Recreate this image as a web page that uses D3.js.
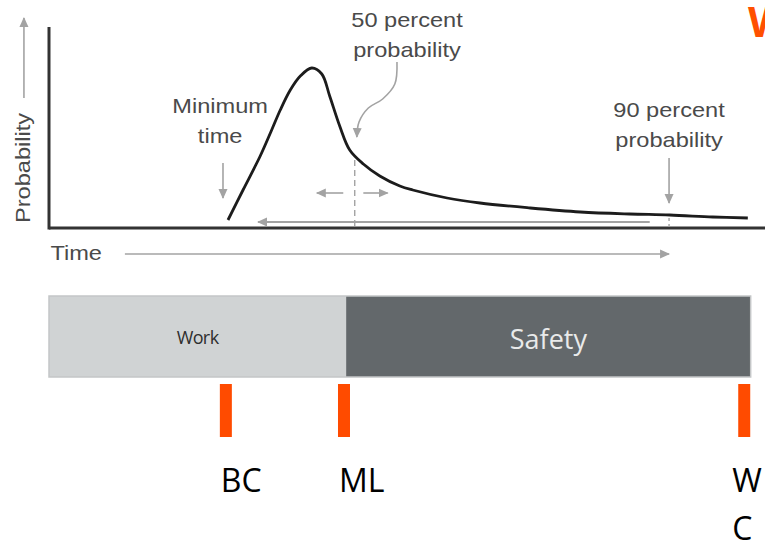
<!DOCTYPE html>
<meta charset="utf-8">
<style>
body { margin: 0; background: #fff; }
svg { display: block; }
.note { font-family: "Liberation Sans", Arial, sans-serif; font-size: 20px; fill: #4a4a4a; }
.mark { font-family: "Open Sans", sans-serif; font-size: 32px; fill: #000; }
</style>
<body>
<svg width="765" height="542"></svg>
<script src="https://d3js.org/d3.v7.min.js"></script>
<script>
// duration curve: time (arbitrary units) vs probability density
var curveTime = [2.50, 2.71, 2.95, 3.11, 3.23, 3.37, 3.51, 3.67, 3.81, 3.92, 4.06, 4.20, 4.39, 4.62, 4.90, 5.08, 5.56, 6.02, 6.72, 7.42, 8.11, 8.67, 9.27, 9.76];
var curveProb = [0.04, 0.19, 0.36, 0.49, 0.59, 0.69, 0.76, 0.80, 0.77, 0.66, 0.51, 0.39, 0.32, 0.26, 0.21, 0.19, 0.15, 0.125, 0.10, 0.08, 0.07, 0.065, 0.055, 0.05];

// key points on the time axis
var minTime = 2.43, medianTime = 4.27, p90Time = 8.66;

// bottom bar segments and markers
var segNames = ["Work", "Safety"];
var segStart = [0, 4.15];
var segEnd = [4.15, 9.80];
var markNames = ["BC", "ML", "WC"];
var markTime = [2.47, 4.12, 9.71];

var svg = d3.select("svg");

var x = d3.scaleLinear().domain([0, 10]).range([49, 765]);
var y = d3.scaleLinear().domain([0, 1]).range([228, 28]);

var gray = "#a3a3a3";

var defs = svg.append("defs");
defs.append("marker")
    .attr("id", "head")
    .attr("viewBox", "0 0 10 10")
    .attr("refX", 9).attr("refY", 5)
    .attr("markerWidth", 10).attr("markerHeight", 10)
    .attr("markerUnits", "userSpaceOnUse")
    .attr("orient", "auto")
  .append("path")
    .attr("d", "M0,0.5 L10,5 L0,9.5 Z")
    .attr("fill", gray);

function arrow(t0, p0, t1, p1, w) {
  svg.append("line")
      .attr("x1", x(t0)).attr("y1", y(p0))
      .attr("x2", x(t1)).attr("y2", y(p1))
      .attr("stroke", gray)
      .attr("stroke-width", w || 1.6)
      .attr("marker-end", "url(#head)");
}

// axes
svg.append("line")
    .attr("x1", x(0)).attr("y1", y(1.005))
    .attr("x2", x(0)).attr("y2", y(0) + 1.5)
    .attr("stroke", "#333").attr("stroke-width", 3);
svg.append("line")
    .attr("x1", x(0)).attr("y1", y(0))
    .attr("x2", x(10)).attr("y2", y(0))
    .attr("stroke", "#333").attr("stroke-width", 3);

// axis titles with their arrows
arrow(-0.35, 0.65, -0.35, 1.05, 1.6);
svg.append("text")
    .attr("class", "note")
    .attr("transform", "translate(" + (x(-0.26)) + "," + y(0.30) + ") rotate(-90) scale(1.18,1)")
    .attr("text-anchor", "middle")
    .text("Probability");

svg.append("text")
    .attr("class", "note")
    .attr("transform", "translate(" + x(0.02) + "," + y(-0.16) + ") scale(1.18,1)")
    .text("Time");
arrow(1.06, -0.13, p90Time, -0.13, 1.6);

// gray guides under the curve
arrow(8.39, 0.03, 2.92, 0.03, 2);
svg.append("line")
    .attr("x1", x(medianTime)).attr("y1", y(0.34))
    .attr("x2", x(medianTime)).attr("y2", y(0))
    .attr("stroke", gray).attr("stroke-width", 1.4)
    .attr("stroke-dasharray", "6,4");
arrow(4.11, 0.175, 3.74, 0.175, 1.6);
arrow(4.39, 0.175, 4.73, 0.175, 1.6);
svg.append("line")
    .attr("x1", x(p90Time)).attr("y1", y(0.05))
    .attr("x2", x(p90Time)).attr("y2", y(0))
    .attr("stroke", gray).attr("stroke-width", 1.4)
    .attr("stroke-dasharray", "3,3");

// the curve
var pts = curveTime.map(function(t, i) { return [t, curveProb[i]]; });
svg.append("path")
    .datum(pts)
    .attr("fill", "none")
    .attr("stroke", "#1c1c1c")
    .attr("stroke-width", 2.8)
    .attr("d", d3.line()
        .x(function(d) { return x(d[0]); })
        .y(function(d) { return y(d[1]); })
        .curve(d3.curveCatmullRom));

// annotations
function note(t, p, lines) {
  lines.forEach(function(s, i) {
    svg.append("text")
        .attr("class", "note")
        .attr("text-anchor", "middle")
        .attr("transform", "translate(" + x(t) + "," + (y(p) + i * 30) + ") scale(1.18,1)")
        .text(s);
  });
}
note(2.39, 0.575, ["Minimum", "time"]);
arrow(minTime, 0.325, minTime, 0.15, 1.6);

note(5.0, 1.005, ["50 percent", "probability"]);
var swirl = [[4.86, 0.83], [4.83, 0.72], [4.66, 0.645], [4.46, 0.6], [4.33, 0.53], [4.30, 0.455]];
svg.append("path")
    .datum(swirl)
    .attr("fill", "none")
    .attr("stroke", gray)
    .attr("stroke-width", 1.6)
    .attr("marker-end", "url(#head)")
    .attr("d", d3.line()
        .x(function(d) { return x(d[0]); })
        .y(function(d) { return y(d[1]); })
        .curve(d3.curveCatmullRom));

note(p90Time, 0.555, ["90 percent", "probability"]);
arrow(p90Time, 0.35, p90Time, 0.125, 1.6);

// work / safety bar
var barTop = 296, barH = 81;
var segFill = ["#d0d3d4", "#63686b"];
svg.selectAll(".seg")
  .data(segNames)
  .enter().append("rect")
    .attr("class", "seg")
    .attr("x", function(d, i) { return x(segStart[i]); })
    .attr("y", barTop)
    .attr("width", function(d, i) { return x(segEnd[i]) - x(segStart[i]); })
    .attr("height", barH)
    .attr("fill", function(d, i) { return segFill[i]; });
svg.append("rect")
    .attr("x", x(segStart[0])).attr("y", barTop)
    .attr("width", x(segEnd[1]) - x(segStart[0])).attr("height", barH)
    .attr("fill", "none").attr("stroke", "#c4c6c7").attr("stroke-width", 1.5);

svg.append("text")
    .attr("x", (x(segStart[0]) + x(segEnd[0])) / 2)
    .attr("y", barTop + 48)
    .attr("text-anchor", "middle")
    .attr("font-family", "Open Sans, sans-serif")
    .attr("font-size", 18)
    .attr("letter-spacing", -0.6)
    .attr("fill", "#2e2e2e")
    .text(segNames[0]);
svg.append("text")
    .attr("x", (x(segStart[1]) + x(segEnd[1])) / 2)
    .attr("y", barTop + 53)
    .attr("text-anchor", "middle")
    .attr("font-family", "Open Sans, sans-serif")
    .attr("font-size", 27)
    .attr("fill", "#e9eaea")
    .text(segNames[1]);

// orange markers and their labels
svg.selectAll(".tick-mark")
  .data(markNames)
  .enter().append("rect")
    .attr("class", "tick-mark")
    .attr("x", function(d, i) { return x(markTime[i]) - 6; })
    .attr("y", 384)
    .attr("width", 12)
    .attr("height", 53)
    .attr("fill", "#ff4b00");

svg.selectAll(".mark")
  .data(markNames)
  .enter().append("text")
    .attr("class", "mark")
    .attr("x", function(d, i) { return x(markTime[i]) - 5; })
    .attr("y", 492)
    .each(function(d, i) {
      var el = d3.select(this);
      if (i === markNames.length - 1) {
        // wraps at the page edge
        el.append("tspan").attr("x", x(markTime[i]) - 12).text(d[0]);
        el.append("tspan").attr("x", x(markTime[i]) - 12).attr("dy", 48).text(d.slice(1));
      } else {
        el.text(d);
      }
    });

// cut-off orange heading at the top right
svg.append("text")
    .attr("x", 748)
    .attr("y", 37)
    .attr("font-family", "Open Sans, sans-serif")
    .attr("font-weight", "bold")
    .attr("font-size", 42)
    .attr("fill", "#ff5000")
    .text("W");
</script>
</body>
